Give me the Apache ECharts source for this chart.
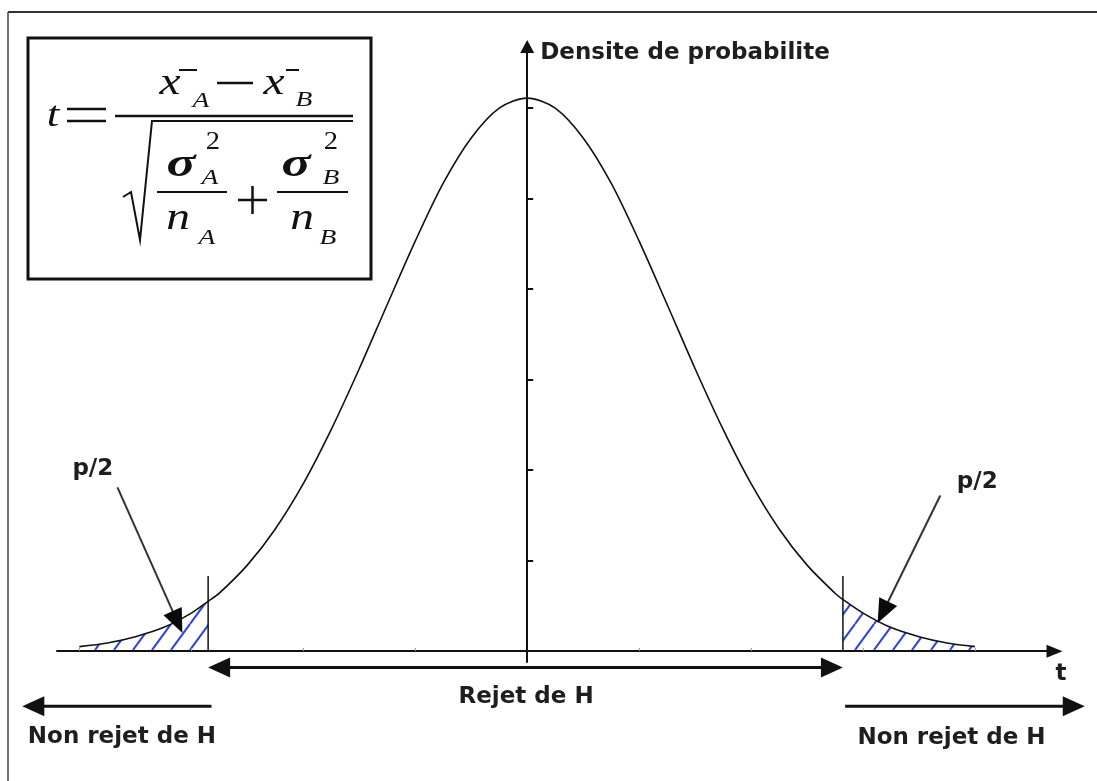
<!DOCTYPE html>
<html>
<head>
<meta charset="utf-8">
<script src="https://cdn.jsdelivr.net/npm/echarts@6/dist/echarts.min.js"></script>
<style>
  html, body { margin: 0; background: #fff; }
  #chart { width: 1097px; height: 781px; }
</style>
</head>
<body>
<div id="chart"></div>
<script>
// courbe : t en graduations de l'axe horizontal, densite en graduations de l'axe vertical
const tValues = [-4, -3.75, -3.5, -3.25, -3, -2.85, -2.75, -2.5, -2.25, -2, -1.75, -1.5, -1.25, -1, -0.75, -0.5, -0.25, 0,
                 0.25, 0.5, 0.75, 1, 1.25, 1.5, 1.75, 2, 2.25, 2.5, 2.75, 2.82, 3, 3.25, 3.5, 3.75, 4];
const density = [0.05, 0.09, 0.16, 0.26, 0.42, 0.55, 0.64, 0.95, 1.35, 1.85, 2.45, 3.12, 3.83, 4.53, 5.17, 5.67, 6.00, 6.11,
                 6.00, 5.67, 5.17, 4.53, 3.83, 3.12, 2.45, 1.85, 1.35, 0.95, 0.64, 0.57, 0.42, 0.26, 0.16, 0.09, 0.05];

// seuils (valeurs critiques) et hauteur des traits verticaux
const cutT = [-2.85, 2.82];
const cutTop = 0.83;

// graduations
const xTicks = [-4, -3, -2, -1, 1, 2, 3, 4];
const yTicks = [1, 2, 3, 4, 5, 6];

// fleches et traits : [t1, d1, t2, d2]
const arrowSegs = [
  [cutT[0], -0.18, cutT[1], -0.18],   // Rejet de H
  [-2.82, -0.61, -4.51, -0.61],       // Non rejet (gauche)
  [2.84, -0.61, 4.98, -0.61],         // Non rejet (droite)
  [-3.66, 1.81, -3.08, 0.20],         // p/2 gauche
  [3.69, 1.72, 3.13, 0.31],           // p/2 droite
  [cutT[0], 0, cutT[0], cutTop],      // seuil gauche
  [cutT[1], 0, cutT[1], cutTop]       // seuil droite
];
const arrowHeads = ['both', 'end', 'end', 'end', 'end', 'none', 'none'];

// textes
const labelText = ['Rejet de H', 'Non rejet de H', 'Non rejet de H', 'p/2', 'p/2'];
const labelAt = [[-0.01, -0.51], [-3.62, -0.95], [3.79, -0.96], [-3.88, 2.01], [4.02, 1.87]];

const chart = echarts.init(document.getElementById('chart'));

function hatch() {
  const c = document.createElement('canvas');
  c.width = 19; c.height = 26;
  const g = c.getContext('2d');
  g.strokeStyle = '#2f40e0';
  g.lineWidth = 2;
  [-19, 0, 19].forEach(o => {
    g.beginPath(); g.moveTo(o, 26); g.lineTo(o + 19, 0); g.stroke();
  });
  return c;
}
const hatchFill = { image: hatch(), repeat: 'repeat' };

const curve = tValues.map((t, i) => [t, density[i]]);
const leftTail = curve.filter(p => p[0] <= cutT[0]);
const rightTail = curve.filter(p => p[0] >= cutT[1]);

function arrowStyle(i) {
  if (i < 3) return { width: 3, color: '#111', line: '#111', len: 22, w: 20 };
  if (i < 5) return { width: 2, color: '#0a0a0a', line: '#333', len: 24, w: 20 };
  return { width: 1.5, color: '#111', line: '#111', len: 0, w: 0 };
}

function drawArrow(params, api) {
  const i = params.dataIndex;
  const st = arrowStyle(i);
  const heads = arrowHeads[i];
  const a = api.coord([api.value(0), api.value(1)]);
  const b = api.coord([api.value(2), api.value(3)]);
  const dx = b[0] - a[0], dy = b[1] - a[1];
  const len = Math.hypot(dx, dy);
  const ux = dx / len, uy = dy / len;
  const head = (tip, sx, sy) => {
    const bx = tip[0] - sx * st.len, by = tip[1] - sy * st.len;
    return {
      type: 'polygon',
      shape: { points: [tip, [bx - sy * st.w / 2, by + sx * st.w / 2], [bx + sy * st.w / 2, by - sx * st.w / 2]] },
      style: { fill: st.color }
    };
  };
  const s0 = (heads === 'both') ? st.len / 2 : 0;
  const s1 = (heads === 'both' || heads === 'end') ? st.len / 2 : 0;
  const children = [{
    type: 'line',
    shape: { x1: a[0] + ux * s0, y1: a[1] + uy * s0, x2: b[0] - ux * s1, y2: b[1] - uy * s1 },
    style: { stroke: st.line, lineWidth: st.width }
  }];
  if (heads === 'end' || heads === 'both') children.push(head(b, ux, uy));
  if (heads === 'both') children.push(head(a, -ux, -uy));
  return { type: 'group', children: children };
}

function drawLabel(params, api) {
  const p = api.coord([api.value(0), api.value(1)]);
  return {
    type: 'text', x: p[0], y: p[1],
    style: {
      text: labelText[params.dataIndex], fill: '#1e1e1e',
      font: 'bold 23px "DejaVu Sans"', align: 'center', verticalAlign: 'middle'
    }
  };
}

// formule (dessin decoratif dans le cadre en haut a gauche)
const serif = '"Liberation Serif", "Times New Roman", serif';
function g(text, x, y, size, opt) {
  opt = opt || {};
  return {
    type: 'text', x: x, y: y, scaleX: opt.sx || 1.25,
    style: {
      text: text, fill: '#111', align: 'center', verticalAlign: 'middle',
      font: (opt.upright ? '' : 'italic ') + (opt.bold ? 'bold ' : '') + size + 'px ' + serif
    }
  };
}
function seg(x1, y1, x2, y2, w) {
  return { type: 'line', shape: { x1: x1, y1: y1, x2: x2, y2: y2 }, style: { stroke: '#111', lineWidth: w || 2.2 } };
}

const formula = [
  { type: 'rect', shape: { x: 28, y: 38, width: 343, height: 241 }, style: { fill: 'none', stroke: '#111', lineWidth: 3 } },
  g('t', 53, 117, 36),
  seg(67, 109, 106, 109, 2.5), seg(67, 121, 106, 121, 2.5),
  seg(115, 116, 353, 116, 2.5),
  g('x', 170, 84, 38), seg(179, 70, 197, 70, 2), g('A', 201, 101, 22),
  seg(217, 83, 253, 83, 2.5),
  g('x', 274, 84, 38), seg(286, 70, 299, 70, 2), g('B', 304, 100, 22),
  { type: 'polyline', shape: { points: [[123, 197], [131, 192], [140, 240], [152, 121], [353, 121]] }, style: { stroke: '#111', lineWidth: 2, fill: 'none' } },
  g('\u03c3', 181, 166, 40, { bold: true, sx: 1.35 }), g('2', 213, 142, 26, { upright: true, sx: 1.1 }), g('A', 210, 178, 22),
  seg(157, 192, 227, 192, 2.2),
  g('n', 178, 219, 38), g('A', 207, 238, 22),
  seg(238, 200, 267, 200, 2.5), seg(252.5, 186, 252.5, 214, 2.5),
  g('\u03c3', 296, 166, 40, { bold: true, sx: 1.35 }), g('2', 331, 142, 26, { upright: true, sx: 1.1 }), g('B', 331, 178, 22),
  seg(277, 192, 348, 192, 2.2),
  g('n', 302, 219, 38), g('B', 328, 238, 22)
];

const frame = [
  { type: 'line', shape: { x1: 8, y1: 12, x2: 1097, y2: 12 }, style: { stroke: '#333', lineWidth: 2 } },
  { type: 'line', shape: { x1: 8, y1: 12, x2: 8, y2: 781 }, style: { stroke: '#444', lineWidth: 1.5 } }
];

const option = {
  animation: false,
  backgroundColor: '#ffffff',
  grid: { left: 57, right: 42.5, top: 46.5, bottom: 119 },
  xAxis: {
    type: 'value', min: -4.2, max: 4.71, z: 10,
    name: 't', nameLocation: 'end', nameGap: 6.5,
    nameTextStyle: { color: '#1e1e1e', fontFamily: 'DejaVu Sans', fontWeight: 'bold', fontSize: 23, align: 'center', verticalAlign: 'top', padding: [11, 0, 0, 0] },
    axisLine: { onZero: true, symbol: ['none', 'triangle'], symbolSize: [13, 16], lineStyle: { color: '#111', width: 2 } },
    axisTick: { show: true, inside: true, length: 3, customValues: xTicks, lineStyle: { color: '#999', width: 1 } },
    axisLabel: { show: false },
    splitLine: { show: false }
  },
  yAxis: {
    type: 'value', min: -0.12, max: 6.68, z: 10,
    name: 'Densite de probabilite', nameLocation: 'end', nameGap: -6.5,
    nameTextStyle: { color: '#1e1e1e', fontFamily: 'DejaVu Sans', fontWeight: 'bold', fontSize: 23, align: 'left', verticalAlign: 'middle', padding: [0, 0, 0, 13] },
    axisLine: { onZero: true, symbol: ['none', 'triangle'], symbolSize: [14, 13], lineStyle: { color: '#111', width: 2 } },
    axisTick: { show: true, inside: true, length: 6, customValues: yTicks, lineStyle: { color: '#111', width: 2 } },
    axisLabel: { show: false },
    splitLine: { show: false }
  },
  series: [
    { name: 'queue gauche', type: 'line', data: leftTail, smooth: 0.3, symbol: 'none', z: 2,
      lineStyle: { width: 0 }, areaStyle: { color: hatchFill, opacity: 1 } },
    { name: 'queue droite', type: 'line', data: rightTail, smooth: 0.3, symbol: 'none', z: 2,
      lineStyle: { width: 0 }, areaStyle: { color: hatchFill, opacity: 1 } },
    { name: 'densite', type: 'line', data: curve, smooth: 0.3, symbol: 'none', z: 3,
      lineStyle: { color: '#111', width: 1.6 } },
    { name: 'fleches', type: 'custom', data: arrowSegs, renderItem: drawArrow, clip: false, z: 4, silent: true,
      encode: { x: [0, 2], y: [1, 3] } },
    { name: 'textes', type: 'custom', data: labelAt, renderItem: drawLabel, clip: false, z: 4, silent: true,
      encode: { x: 0, y: 1 } }
  ],
  graphic: frame.concat(formula)
};

chart.setOption(option);
</script>
</body>
</html>
